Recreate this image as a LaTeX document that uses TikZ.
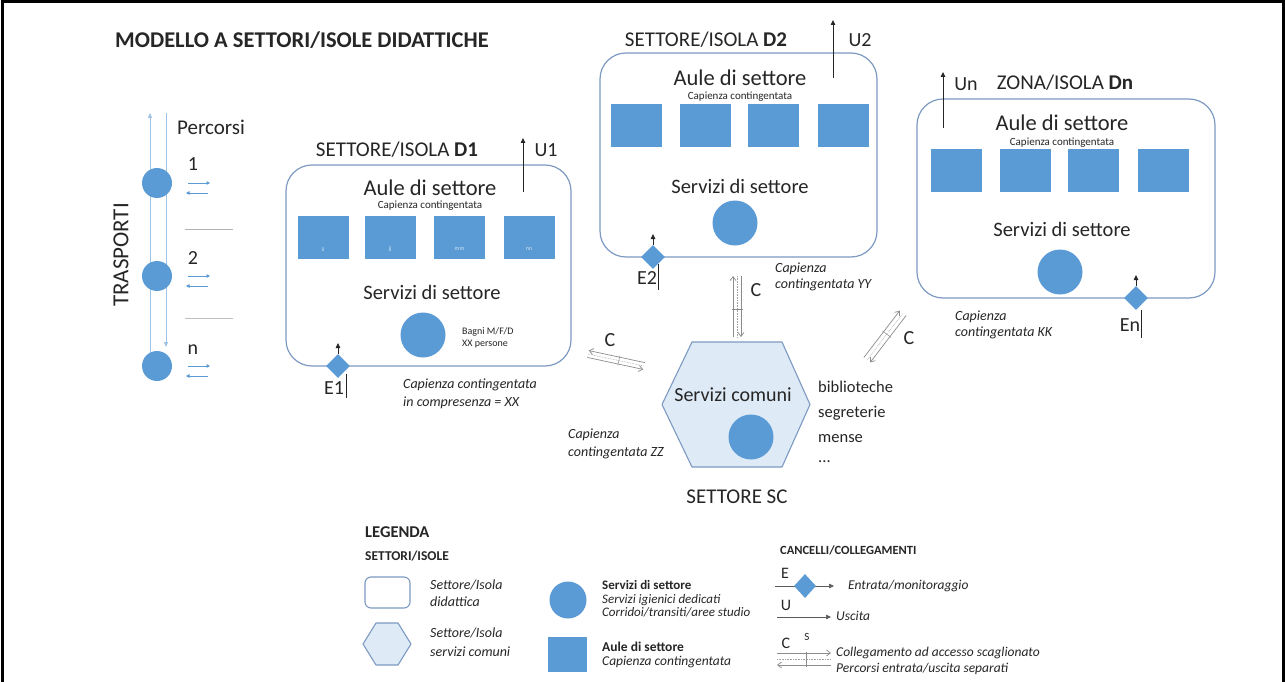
\documentclass[tikz,border=0pt]{standalone}
\usepackage{fontspec}
\setmainfont{Carlito}
\usetikzlibrary{arrows.meta,calc,shapes.geometric}
\definecolor{bfill}{HTML}{5B9BD5}
\definecolor{bline}{HTML}{7D9AC2}
\definecolor{hexfill}{HTML}{DEEAF6}
\definecolor{tblue}{HTML}{9DC3E6}
\definecolor{txt}{HTML}{262626}
\definecolor{cgray}{HTML}{8C8C8C}
% #1 offset, #2 a, #3 b, #4 angle, #5 -angle
\newcommand{\cconn}[5]{%
  \draw[cline] ($(#3)!#1!#5:(#2)$) -- ($(#2)!#1!#4:(#3)$);
  \draw[cline] ($(#2)!#1!#5:(#3)$) -- ($(#3)!#1!#4:(#2)$);
  \draw[cdot] (#2) -- (#3);
  \draw[draw=cgray, line width=0.5pt] ($(#2)!0.55!(#3)!#1+1.5pt!90:(#3)$) -- ($(#2)!0.55!(#3)!#1+1.5pt!-90:(#3)$);
}
\begin{document}
\begin{tikzpicture}[x=1pt,y=-1pt,
  every node/.style={text=txt, inner sep=0pt},
  fs/.style={font=\fontsize{#1}{#1}\selectfont},
  fsl/.style 2 args={font=\fontsize{#1}{#2}\selectfont, align=left},
  fsi/.style 2 args={font=\fontsize{#1}{#2}\selectfont\itshape, align=left},
  sector/.style={draw=bline, line width=1.2pt, rounded corners=26pt, rectangle},
  aula/.style={rectangle, fill=bfill, minimum width=51pt, minimum height=43pt},
  servc/.style={circle, fill=bfill, minimum size=45pt},
  gate/.style={diamond, fill=bfill, minimum width=24pt, minimum height=24pt},
  exitarr/.style={draw=txt, line width=0.8pt, -{Triangle[length=5pt,width=4.5pt]}},
  cline/.style={draw=cgray, line width=0.7pt, -{Straight Barb[length=4pt,width=6pt]}},
  cdot/.style={draw=cgray!80, line width=0.6pt, densely dotted},
  tline/.style={draw=tblue, line width=0.9pt, -{Triangle[length=5pt,width=4pt]}},
  smallarr/.style={draw=bfill, line width=0.7pt, -{Triangle[length=3.5pt,width=3.5pt]}},
  tstop/.style={circle, fill=bfill, minimum size=30pt},
  roomlbl/.style={fs=6, text=white!70!bfill},
  cursor/.style={draw=txt, line width=0.7pt},
  hexst/.style={draw=bline, fill=hexfill, line width=1.1pt, line join=round},
]
\useasboundingbox (0,0) rectangle (1285,682);
\fill[white] (0,0) rectangle (1285,682);
% frame
\draw[line width=3pt] (2,682) -- (2,2) -- (1283,2) -- (1283,682);

% title
\node[fs=22.5] (title) at (302,40) {\bfseries MODELLO A SETTORI/ISOLE DIDATTICHE};

% ---------------- transports
\coordinate (tUb) at (150,360);
\coordinate (tUt) at (150,113);
\coordinate (tDt) at (166,113);
\coordinate (tDb) at (166,347);
\draw[tline] (tUb) -- (tUt);
\draw[tline] (tDt) -- (tDb);
\node[tstop] (T1) at (157,183) {};
\node[tstop] (T2) at (157,276) {};
\node[tstop] (T3) at (157,366) {};
\node[fs=21] (perc) at (211,127) {Percorsi};
\node[fs=20] (n1) at (193,164) {1};
\node[fs=20] (n2) at (193,258) {2};
\node[fs=20] (n3) at (193,350) {n};
\node[fs=23, rotate=90] (trasp) at (121,255) {TRASPORTI};
\foreach \i/\y in {1/183, 2/276, 3/366}{
  \coordinate (ra\i) at (188,\y);
  \coordinate (rb\i) at (210,\y);
  \coordinate (la\i) at (208,\y+10);
  \coordinate (lb\i) at (186,\y+10);
  \draw[smallarr] (ra\i) -- (rb\i);
  \draw[smallarr] (la\i) -- (lb\i);
}
\coordinate (g1a) at (185,229); \coordinate (g1b) at (233,229);
\coordinate (g2a) at (185,318); \coordinate (g2b) at (233,318);
\draw[draw=gray!60, line width=1pt] (g1a) -- (g1b);
\draw[draw=gray!150!black, line width=1pt] (g2a) -- (g2b);

% ---------------- D1
\node[sector, minimum width=285pt, minimum height=201pt] (D1) at (428.5,265.5) {};
\node[fs=21] (D1t) at (397,150) {SETTORE/ISOLA \textbf{D1}};
\node[fs=22.5] (D1a) at (430,188) {Aule di settore};
\node[fs=11] (D1c) at (430,206) {Capienza contingentata};
\node[aula] (D1q1) at (323,237) {};
\node[aula] (D1q2) at (390,237) {};
\node[aula] (D1q3) at (459.5,237) {};
\node[aula] (D1q4) at (529,237) {};
\node[roomlbl] (D1l1) at (323,249) {ii};
\node[roomlbl] (D1l2) at (390,249) {jj};
\node[roomlbl] (D1l3) at (459.5,249) {mm};
\node[roomlbl] (D1l4) at (529,249) {nn};
\node[fs=20.5] (D1s) at (432,292) {Servizi di settore};
\node[servc] (D1c2) at (423,335) {};
\node[fsl={10}{12}, anchor=west] (D1b) at (462,338) {Bagni M/F/D\\XX persone};
\coordinate (U1s) at (523,192);
\coordinate (U1e) at (523,138);
\draw[exitarr] (U1s) -- (U1e);
\node[fs=20] (U1) at (546,150) {U1};
\node[gate] (E1) at (338,366) {};
\coordinate (E1a) at (338,343);
\draw[exitarr] (E1.north) -- (E1a);
\node[fs=20] (E1l) at (334,388) {E1};
\coordinate (E1c1) at (346,374); \coordinate (E1c2) at (346,398);
\draw[cursor] (E1c1) -- (E1c2);
\node[fsi={14}{18}, anchor=west] (D1n) at (403,394) {Capienza contingentata\\in compresenza = XX};

% ---------------- D2
\node[sector, minimum width=277pt, minimum height=204pt] (D2) at (738.5,155) {};
\node[fs=21] (D2t) at (706,40) {SETTORE/ISOLA \textbf{D2}};
\node[fs=22.5] (D2a) at (740,78) {Aule di settore};
\node[fs=11] (D2c) at (740,97) {Capienza contingentata};
\node[aula] (D2q1) at (636,125.5) {};
\node[aula] (D2q2) at (705,125.5) {};
\node[aula] (D2q3) at (773.5,125.5) {};
\node[aula] (D2q4) at (843,125.5) {};
\node[fs=20.5] (D2s) at (740,186) {Servizi di settore};
\node[servc] (D2c2) at (735,223) {};
\coordinate (U2s) at (833,78);
\coordinate (U2e) at (833,20);
\draw[exitarr] (U2s) -- (U2e);
\node[fs=20] (U2) at (860,40) {U2};
\node[gate] (E2) at (653,257) {};
\coordinate (E2a) at (653,234);
\draw[exitarr] (E2.north) -- (E2a);
\node[fs=20] (E2l) at (647,278) {E2};
\coordinate (E2c1) at (658,264); \coordinate (E2c2) at (658,290);
\draw[cursor] (E2c1) -- (E2c2);
\node[fsi={14}{16}, anchor=west] (D2n) at (775,277) {Capienza\\contingentata YY};

% ---------------- Dn
\node[sector, minimum width=298pt, minimum height=199pt] (Dn) at (1066,198.5) {};
\node[fs=21] (Dnt) at (1065,83) {ZONA/ISOLA \textbf{Dn}};
\node[fs=22.5] (Dna) at (1062,123) {Aule di settore};
\node[fs=11] (Dnc) at (1062,142.5) {Capienza contingentata};
\node[aula] (Dnq1) at (956.5,170.5) {};
\node[aula] (Dnq2) at (1025.5,170.5) {};
\node[aula] (Dnq3) at (1093,170.5) {};
\node[aula] (Dnq4) at (1163,170.5) {};
\node[fs=20.5] (Dns) at (1062,229) {Servizi di settore};
\node[servc] (Dnc2) at (1060,272) {};
\coordinate (Uns) at (943,128);
\coordinate (Une) at (943,72);
\draw[exitarr] (Uns) -- (Une);
\node[fs=20] (Un) at (966,84) {Un};
\node[gate] (En) at (1136,298) {};
\coordinate (Ena) at (1136,275);
\draw[exitarr] (En.north) -- (Ena);
\node[fs=20] (Enl) at (1130,325) {En};
\coordinate (Enc1) at (1141,310); \coordinate (Enc2) at (1141,338);
\draw[cursor] (Enc1) -- (Enc2);
\node[fsi={14}{16}, anchor=west] (Dnn) at (955,325) {Capienza\\contingentata KK};

% ---------------- SC
\coordinate (SC) at (736,404);
\draw[hexst] (662,404.5) -- (692,342) -- (782,342) -- (810,404.5) -- (782,467) -- (692,467) -- cycle;
\node[fs=20] (SCs) at (733,395) {Servizi comuni};
\node[servc] (SCc) at (751,437) {};
\node[fs=21] (SCt) at (737,497) {SETTORE SC};
\node[fs=16.5, anchor=west] (SCl1) at (818,387) {biblioteche};
\node[fs=16.5, anchor=west] (SCl2) at (818,413) {segreterie};
\node[fs=16.5, anchor=west] (SCl3) at (818,439) {mense};
\node[fs=16.5, anchor=west] (SCl4) at (818,462) {...};
\node[fsi={14}{18}, anchor=west] (SCn) at (568,444) {Capienza\\contingentata ZZ};

% ---------------- connectors C
\coordinate (C1a) at (588,354);
\coordinate (C1b) at (644,366);
\cconn{3.5pt}{C1a}{C1b}{90}{-90}
\node[fs=20] (C1l) at (610,340) {C};
\coordinate (C2a) at (737,276);
\coordinate (C2b) at (737,337);
\cconn{4pt}{C2a}{C2b}{-90}{90}
\node[fs=20] (C2l) at (756,290) {C};
\coordinate (C3a) at (867,360);
\coordinate (C3b) at (903,313);
\cconn{4pt}{C3a}{C3b}{-90}{90}
\node[fs=20] (C3l) at (909,338) {C};

% ---------------- legend
\node[fs=16.5, anchor=west] (leg) at (365,532) {\bfseries LEGENDA};
\node[fs=13.5, anchor=west] (legs) at (365,556) {\bfseries SETTORI/ISOLE};
\node[draw=bline, line width=1.1pt, rounded corners=6pt, minimum width=45pt, minimum height=31pt] (legR) at (387.5,592.5) {};
\node[fsi={14}{17}, anchor=west] (legRt) at (430,593) {Settore/Isola\\didattica};
\coordinate (legH) at (387,644);
\draw[hexst] (363,644) -- (376,623) -- (398,623) -- (411,644) -- (398,665) -- (376,665) -- cycle;
\node[fsi={14}{19}, anchor=west] (legHt) at (430,642) {Settore/Isola\\servizi comuni};
\node[circle, fill=bfill, minimum size=37pt] (legC) at (568,600) {};
\node[fsi={13}{13.5}, anchor=west] (legCt) at (602,599) {\upshape\bfseries Servizi di settore\\Servizi igienici dedicati\\Corridoi/transiti/aree studio};
\node[rectangle, fill=bfill, minimum width=39pt, minimum height=35pt] (legS) at (567.5,654) {};
\node[fsi={13.5}{14.5}, anchor=west] (legSt) at (602,655) {\upshape\bfseries Aule di settore\\Capienza contingentata};

\node[fs=12.5, anchor=west] (legG) at (780,550) {\bfseries CANCELLI/COLLEGAMENTI};
\coordinate (lEa) at (775,586);
\coordinate (lEb) at (834,586);
\draw[exitarr, draw=gray!70!black, line width=0.6pt] (lEa) -- (lEb);
\node[gate, minimum width=22pt, minimum height=24pt] (lE) at (805,586) {};
\node[fs=16] (lEl) at (785,573) {E};
\node[fsi={13.5}{14}, anchor=west] (lEt) at (848,586) {Entrata/monitoraggio};
\coordinate (lUa) at (777,617);
\coordinate (lUb) at (831,617);
\draw[exitarr, draw=gray!70!black, line width=0.6pt] (lUa) -- (lUb);
\node[fs=16] (lUl) at (786,605) {U};
\node[fsi={13.5}{14}, anchor=west] (lUt) at (836,616) {Uscita};
\coordinate (lCa) at (777,659);
\coordinate (lCb) at (831,659);
\cconn{6pt}{lCa}{lCb}{-90}{90}
\node[fs=16] (lCl) at (786,643) {C};
\node[fs=11] (lCs) at (807,637) {S};
\node[fsi={13.5}{16}, anchor=west] (lCt) at (836,661) {Collegamento ad accesso scaglionato\\Percorsi entrata/uscita separati};
\end{tikzpicture}
\end{document}
